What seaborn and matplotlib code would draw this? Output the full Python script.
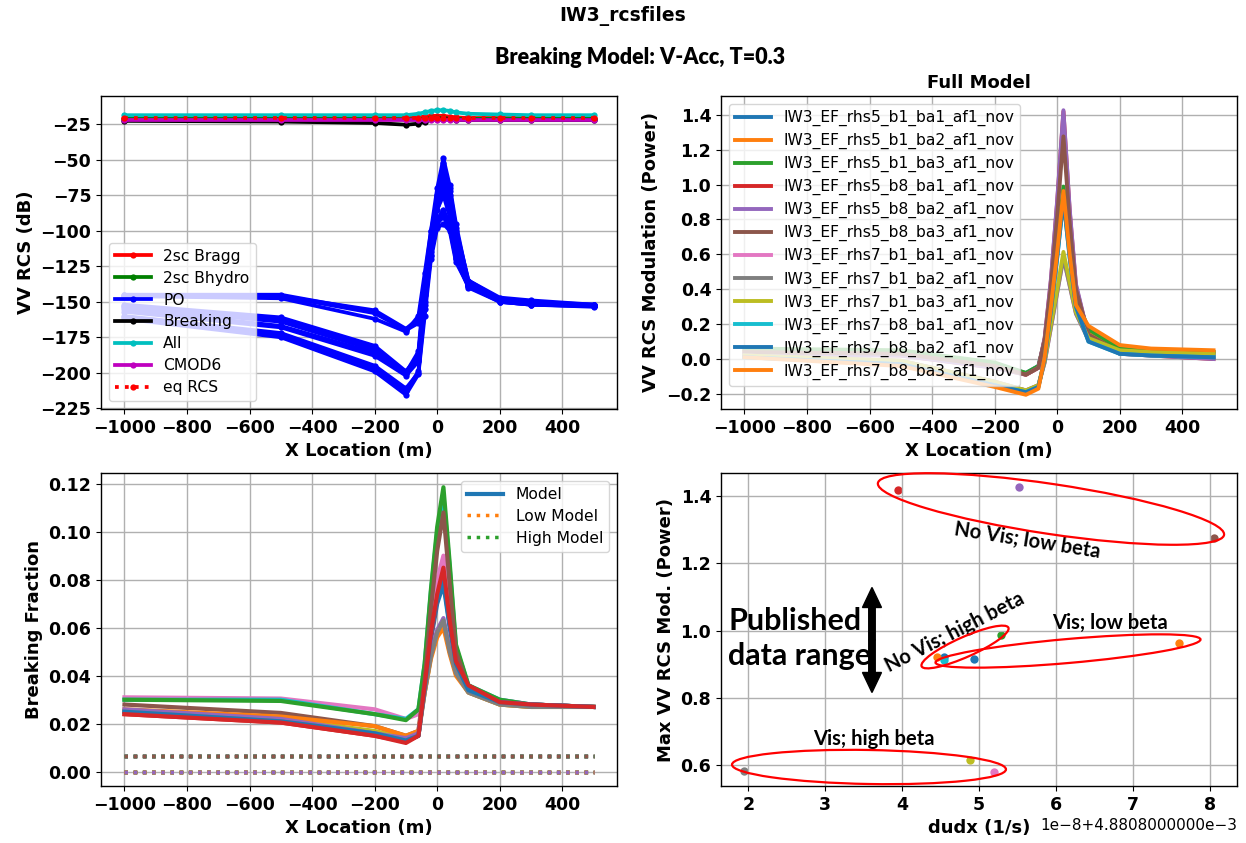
import matplotlib
matplotlib.use("Agg")
import matplotlib.pyplot as plt
import matplotlib.ticker as mticker
from matplotlib.patches import Ellipse, FancyArrow
from matplotlib.transforms import ScaledTranslation
import seaborn as sns

# ---------------------------------------------------------------- data
X_LOC = [-1000, -500, -200, -100, -60, -40, -20, 0, 20, 40, 60, 100, 200, 300, 500]

RUNS = [
    "IW3_EF_rhs5_b1_ba1_af1_nov",
    "IW3_EF_rhs5_b1_ba2_af1_nov",
    "IW3_EF_rhs5_b1_ba3_af1_nov",
    "IW3_EF_rhs5_b8_ba1_af1_nov",
    "IW3_EF_rhs5_b8_ba2_af1_nov",
    "IW3_EF_rhs5_b8_ba3_af1_nov",
    "IW3_EF_rhs7_b1_ba1_af1_nov",
    "IW3_EF_rhs7_b1_ba2_af1_nov",
    "IW3_EF_rhs7_b1_ba3_af1_nov",
    "IW3_EF_rhs7_b8_ba1_af1_nov",
    "IW3_EF_rhs7_b8_ba2_af1_nov",
    "IW3_EF_rhs7_b8_ba3_af1_nov",
]

# VV RCS components (dB)
BRAGG_DB = [-20.5, -20.5, -20.5, -20.5, -20.0, -19.5, -19.0, -19.0, -19.0, -19.5, -20.0, -20.5, -20.5, -20.5, -20.5]
BHYDRO_DB = [-21.0, -21.0, -21.0, -21.5, -21.5, -21.0, -20.5, -20.5, -20.5, -21.0, -21.0, -21.0, -21.0, -21.0, -21.0]
BREAKING_DB = [-22.5, -23.0, -24.0, -25.2, -24.5, -23.0, -21.5, -21.0, -21.0, -21.0, -22.0, -22.0, -22.0, -22.0, -22.0]
ALL_DB = [-18.5, -18.5, -18.5, -18.5, -17.5, -16.5, -15.5, -15.0, -15.0, -15.5, -16.5, -17.5, -18.0, -18.5, -18.5]
CMOD6_DB = [-22.0, -22.0, -22.0, -22.0, -22.0, -22.0, -22.0, -22.0, -22.0, -22.0, -22.0, -22.0, -22.0, -22.0, -22.0]
EQ_RCS_DB = [-20.3, -20.3, -20.3, -20.3, -20.3, -20.3, -20.3, -20.3, -20.3, -20.3, -20.3, -20.3, -20.3, -20.3, -20.3]

PO_DB = [
    [-145.0, -145.0, -157.0, -170.0, -165.0, -140.0, -110.0, -78.0, -52.0, -72.0, -100.0, -135.0, -148.0, -150.0, -152.0],
    [-146.0, -147.5, -162.0, -171.0, -160.0, -130.0, -100.0, -70.0, -49.0, -68.0, -95.0, -137.0, -149.0, -151.0, -153.0],
    [-145.5, -146.0, -158.0, -170.0, -163.0, -136.0, -105.0, -75.0, -60.0, -75.0, -105.0, -136.0, -148.0, -150.0, -152.5],
    [-152.0, -161.0, -181.0, -199.0, -188.0, -140.0, -105.0, -80.0, -65.0, -80.0, -110.0, -138.0, -149.0, -151.0, -153.0],
    [-153.0, -162.0, -183.0, -200.0, -185.0, -135.0, -100.0, -78.0, -68.0, -85.0, -112.0, -137.0, -150.0, -152.0, -153.0],
    [-155.0, -167.0, -186.0, -201.0, -190.0, -145.0, -110.0, -85.0, -75.0, -90.0, -115.0, -138.0, -148.0, -151.0, -152.5],
    [-157.0, -168.0, -188.0, -202.0, -192.0, -150.0, -115.0, -92.0, -85.0, -95.0, -118.0, -139.0, -149.0, -151.0, -153.0],
    [-160.0, -172.0, -195.0, -211.0, -200.0, -155.0, -118.0, -95.0, -90.0, -98.0, -120.0, -140.0, -150.0, -152.0, -153.5],
    [-162.0, -175.0, -199.0, -215.5, -201.0, -160.0, -120.0, -98.0, -95.0, -100.0, -122.0, -139.0, -149.0, -151.0, -153.0],
    [-146.0, -146.0, -156.0, -169.0, -162.0, -138.0, -108.0, -76.0, -55.0, -70.0, -98.0, -135.0, -147.0, -149.0, -152.0],
    [-154.0, -164.0, -184.0, -200.0, -187.0, -142.0, -108.0, -82.0, -70.0, -84.0, -113.0, -137.0, -149.0, -151.0, -152.0],
    [-161.0, -174.0, -197.0, -213.0, -199.0, -152.0, -117.0, -93.0, -88.0, -96.0, -119.0, -139.0, -150.0, -152.0, -153.0],
]

# VV RCS modulation (power), one row per run
MOD_POWER = [
    [0.05, 0.04, -0.03, -0.08, -0.04, 0.10, 0.35, 0.62, 0.922, 0.62, 0.33, 0.15, 0.05, 0.04, 0.03],
    [0.05, 0.04, -0.03, -0.09, -0.05, 0.09, 0.34, 0.62, 0.920, 0.63, 0.34, 0.16, 0.06, 0.05, 0.04],
    [0.06, 0.05, -0.02, -0.08, -0.04, 0.11, 0.37, 0.66, 0.988, 0.66, 0.36, 0.17, 0.06, 0.05, 0.04],
    [0.03, 0.02, -0.05, -0.09, -0.05, 0.12, 0.45, 0.90, 1.419, 0.85, 0.42, 0.13, 0.03, 0.02, 0.00],
    [0.03, 0.02, -0.05, -0.09, -0.05, 0.12, 0.46, 0.91, 1.426, 0.86, 0.43, 0.13, 0.03, 0.02, 0.00],
    [0.04, 0.03, -0.04, -0.09, -0.05, 0.11, 0.42, 0.82, 1.276, 0.78, 0.40, 0.14, 0.04, 0.03, 0.01],
    [0.02, -0.01, -0.13, -0.18, -0.15, -0.02, 0.18, 0.38, 0.580, 0.42, 0.26, 0.11, 0.04, 0.03, 0.02],
    [0.02, -0.01, -0.13, -0.18, -0.15, -0.02, 0.18, 0.38, 0.581, 0.42, 0.26, 0.11, 0.04, 0.03, 0.02],
    [0.02, -0.01, -0.13, -0.18, -0.15, -0.01, 0.20, 0.40, 0.614, 0.44, 0.27, 0.12, 0.05, 0.04, 0.03],
    [0.01, -0.03, -0.15, -0.19, -0.16, 0.00, 0.28, 0.58, 0.912, 0.58, 0.30, 0.10, 0.03, 0.02, 0.01],
    [0.01, -0.03, -0.15, -0.19, -0.16, 0.00, 0.28, 0.58, 0.916, 0.58, 0.30, 0.10, 0.03, 0.02, 0.01],
    [0.01, -0.04, -0.16, -0.205, -0.17, 0.01, 0.30, 0.61, 0.963, 0.60, 0.31, 0.19, 0.08, 0.06, 0.05],
]

# Breaking fraction, one row per run
BREAK_FRAC = [
    [0.025, 0.021, 0.016, 0.013, 0.015, 0.035, 0.055, 0.070, 0.078, 0.060, 0.045, 0.034, 0.029, 0.028, 0.027],
    [0.024, 0.0205, 0.015, 0.0125, 0.015, 0.035, 0.056, 0.072, 0.083, 0.062, 0.046, 0.035, 0.029, 0.028, 0.027],
    [0.031, 0.0305, 0.026, 0.022, 0.024, 0.040, 0.063, 0.080, 0.090, 0.068, 0.048, 0.035, 0.030, 0.028, 0.027],
    [0.030, 0.030, 0.024, 0.022, 0.026, 0.045, 0.075, 0.100, 0.115, 0.085, 0.052, 0.036, 0.030, 0.028, 0.027],
    [0.030, 0.0295, 0.024, 0.0215, 0.026, 0.045, 0.076, 0.102, 0.1185, 0.087, 0.053, 0.036, 0.030, 0.028, 0.027],
    [0.028, 0.0245, 0.019, 0.015, 0.017, 0.038, 0.068, 0.092, 0.108, 0.078, 0.050, 0.035, 0.029, 0.028, 0.027],
    [0.025, 0.022, 0.017, 0.014, 0.016, 0.033, 0.048, 0.058, 0.062, 0.050, 0.041, 0.033, 0.028, 0.027, 0.027],
    [0.026, 0.023, 0.019, 0.015, 0.017, 0.033, 0.047, 0.056, 0.060, 0.049, 0.040, 0.033, 0.028, 0.027, 0.027],
    [0.026, 0.022, 0.016, 0.014, 0.016, 0.034, 0.050, 0.059, 0.064, 0.051, 0.042, 0.034, 0.029, 0.028, 0.027],
    [0.025, 0.021, 0.016, 0.013, 0.015, 0.033, 0.048, 0.058, 0.063, 0.050, 0.041, 0.033, 0.028, 0.027, 0.027],
    [0.025, 0.021, 0.016, 0.013, 0.015, 0.035, 0.057, 0.072, 0.080, 0.061, 0.045, 0.034, 0.029, 0.028, 0.027],
    [0.024, 0.0205, 0.015, 0.012, 0.015, 0.036, 0.058, 0.074, 0.085, 0.063, 0.046, 0.036, 0.029, 0.028, 0.027],
]
LOW_MODEL = [0.0, 0.0, 0.0, 0.0, 0.0, 0.0, 0.0, 0.0, 0.0, 0.0, 0.0, 0.0, 0.0, 0.0, 0.0]
HIGH_MODEL = [0.0065, 0.0065, 0.0065, 0.0065, 0.0065, 0.0065, 0.0065, 0.0065,
              0.0065, 0.0065, 0.0065, 0.0065, 0.0065, 0.0065, 0.0065]

# Mean current gradient of each run (1/s)
DUDX = [4.8808455e-3, 4.8808445e-3, 4.8808528e-3, 4.8808395e-3,
        4.8808552e-3, 4.8808805e-3, 4.8808520e-3, 4.8808195e-3,
        4.8808488e-3, 4.8808455e-3, 4.8808493e-3, 4.8808760e-3]

# ---------------------------------------------------------------- style
plt.rcParams.update({
    "font.family": "DejaVu Sans",
    "font.weight": "bold",
    "axes.labelweight": "bold",
    "axes.titleweight": "bold",
    "axes.labelsize": 13,
    "axes.titlesize": 13,
    "xtick.labelsize": 12.5,
    "ytick.labelsize": 12.5,
    "axes.grid": True,
    "grid.color": "#b0b0b0",
    "grid.linewidth": 1.0,
    "axes.linewidth": 1.0,
})
TAB10 = sns.color_palette("tab10")
LEGEND_KW = dict(prop={"weight": "normal", "size": 11.2}, labelspacing=0.44,
                 handlelength=2.3)
ANNOT_FONT = dict(family="Lato", weight="bold", color="black")

W, H = 1246, 843
fig = plt.figure(figsize=(W / 100, H / 100), dpi=100)

AX_W, AX_H = 516 / W, 313 / H
ax_rcs = fig.add_axes([101 / W, 1 - 409 / H, AX_W, AX_H])
ax_mod = fig.add_axes([721 / W, 1 - 409 / H, AX_W, AX_H])
ax_brk = fig.add_axes([101 / W, 1 - 786 / H, AX_W, AX_H])
ax_max = fig.add_axes([721 / W, 1 - 786 / H, AX_W, AX_H])


def line(ax, y, color, **kw):
    sns.lineplot(x=X_LOC, y=y, ax=ax, color=color, sort=False,
                 estimator=None, errorbar=None, **kw)


# ---------------------------------------------------------------- RCS components
dot = dict(marker="o", markersize=4.5, markeredgewidth=0, linewidth=2.7)
line(ax_rcs, BRAGG_DB, "r", label="2sc Bragg", **dot)
line(ax_rcs, BHYDRO_DB, "g", label="2sc Bhydro", **dot)
for i, po in enumerate(PO_DB):
    line(ax_rcs, po, "b", label="PO" if i == 0 else "_nolegend_", **dot)
line(ax_rcs, BREAKING_DB, "k", label="Breaking", **dot)
line(ax_rcs, ALL_DB, "c", label="All", **dot)
line(ax_rcs, CMOD6_DB, "m", label="CMOD6", **dot)
line(ax_rcs, EQ_RCS_DB, "r", label="eq RCS", linestyle=":", **dot)
ax_rcs.yaxis.set_major_locator(mticker.MultipleLocator(25))
ax_rcs.set_xlabel("X Location (m)")
ax_rcs.set_ylabel("VV RCS (dB)")
ax_rcs.legend(loc="lower left", **LEGEND_KW)

# ---------------------------------------------------------------- modulation
for i, (run, mod) in enumerate(zip(RUNS, MOD_POWER)):
    line(ax_mod, mod, TAB10[i % 10], label=run, linewidth=2.8)
ax_mod.set_title("Full Model")
ax_mod.set_xlabel("X Location (m)")
ax_mod.set_ylabel("VV RCS Modulation (Power)")
ax_mod.legend(loc="upper left", **LEGEND_KW)

# ---------------------------------------------------------------- breaking fraction
cycle = 0
for i, frac in enumerate(BREAK_FRAC):
    first = i == 0
    line(ax_brk, frac, TAB10[cycle % 10], label="Model" if first else "_nolegend_",
         linewidth=3)
    line(ax_brk, LOW_MODEL, TAB10[(cycle + 1) % 10], linestyle=":", linewidth=2.5,
         label="Low Model" if first else "_nolegend_")
    line(ax_brk, HIGH_MODEL, TAB10[(cycle + 2) % 10], linestyle=":", linewidth=2.5,
         label="High Model" if first else "_nolegend_")
    cycle += 3
ax_brk.set_xlabel("X Location (m)")
ax_brk.set_ylabel("Breaking Fraction")
ax_brk.legend(loc="upper right", **LEGEND_KW)


# ---------------------------------------------------------------- peak modulation vs dudx
class LegacyOffsetFormatter(mticker.ScalarFormatter):
    """Offset text written as e.g. 1e-8+4.8808000000e-3."""

    def get_offset(self):
        if len(self.locs) == 0 or not self.offset:
            return super().get_offset()
        oom = self.orderOfMagnitude
        mant, exp = f"{self.offset:.10e}".split("e")
        off = ("+" if self.offset > 0 else "") + f"{mant}e{int(exp)}"
        sci = f"1e{oom}" if oom else ""
        return (sci + off).replace("-", "\u2212")


for i, run in enumerate(RUNS):
    sns.scatterplot(x=[DUDX[i]], y=[max(MOD_POWER[i])], ax=ax_max,
                    color=TAB10[i % 10], s=36, linewidth=0)
ax_max.xaxis.set_major_formatter(LegacyOffsetFormatter())
ax_max.xaxis.get_offset_text().set_fontweight("normal")
ax_max.xaxis.get_offset_text().set_fontsize(11)
ax_max.set_xlabel("dudx (1/s)")
ax_max.set_ylabel("Max VV RCS Mod. (Power)")

# group outlines, sized in inches and anchored in axes fraction
GROUPS = [
    # (x, y) axes fraction, width, height (in), angle
    ((0.6395, 0.885), 3.50, 0.50, -8.5),
    ((0.4729, 0.4441), 0.95, 0.20, 24.0),
    ((0.6725, 0.4313), 2.66, 0.24, 5.0),
    ((0.2868, 0.0607), 2.74, 0.34, -1.0),
]
for (fx, fy), w, h, ang in GROUPS:
    tr = fig.dpi_scale_trans + ScaledTranslation(fx, fy, ax_max.transAxes)
    fig.add_artist(Ellipse((0, 0), w, h, angle=ang, fill=False, edgecolor="red",
                           linewidth=1.6, transform=tr, clip_on=False))

ax_max.text(0.5930, 0.7827, "No Vis; low beta", transform=ax_max.transAxes,
            ha="center", va="center", rotation=-9, rotation_mode="anchor",
            fontsize=14.5, **ANNOT_FONT)
ax_max.text(0.4535, 0.4920, "No Vis; high beta", transform=ax_max.transAxes,
            ha="center", va="center", rotation=27, rotation_mode="anchor",
            fontsize=14.5, **ANNOT_FONT)
ax_max.text(0.7539, 0.5208, "Vis; low beta", transform=ax_max.transAxes,
            ha="center", va="center", fontsize=14.5, **ANNOT_FONT)
ax_max.text(0.2965, 0.1502, "Vis; high beta", transform=ax_max.transAxes,
            ha="center", va="center", fontsize=14.5, **ANNOT_FONT)
ax_max.text(0.0136, 0.5272, "Published", transform=ax_max.transAxes,
            ha="left", va="center", fontsize=22, **ANNOT_FONT)
ax_max.text(0.0136, 0.4153, "data range", transform=ax_max.transAxes,
            ha="left", va="center", fontsize=22, **ANNOT_FONT)

arrow_tr = fig.dpi_scale_trans + ScaledTranslation(0.2926, 0.4665, ax_max.transAxes)
for dy in (0.525, -0.525):
    fig.add_artist(FancyArrow(0, 0, 0, dy, width=0.065, head_width=0.19,
                              head_length=0.2, length_includes_head=True,
                              color="black", transform=arrow_tr))

# ---------------------------------------------------------------- titles
fig.text(623 / W, 1 - 16 / H, "IW3_rcsfiles", ha="center", va="center",
         fontsize=13.5, fontweight="bold")
fig.text(640 / W, 1 - 58 / H, "Breaking Model: V-Acc, T=0.3", ha="center",
         va="center", fontsize=15.5, family="Lato", fontweight="heavy")

fig.savefig("out.png", dpi=100)
